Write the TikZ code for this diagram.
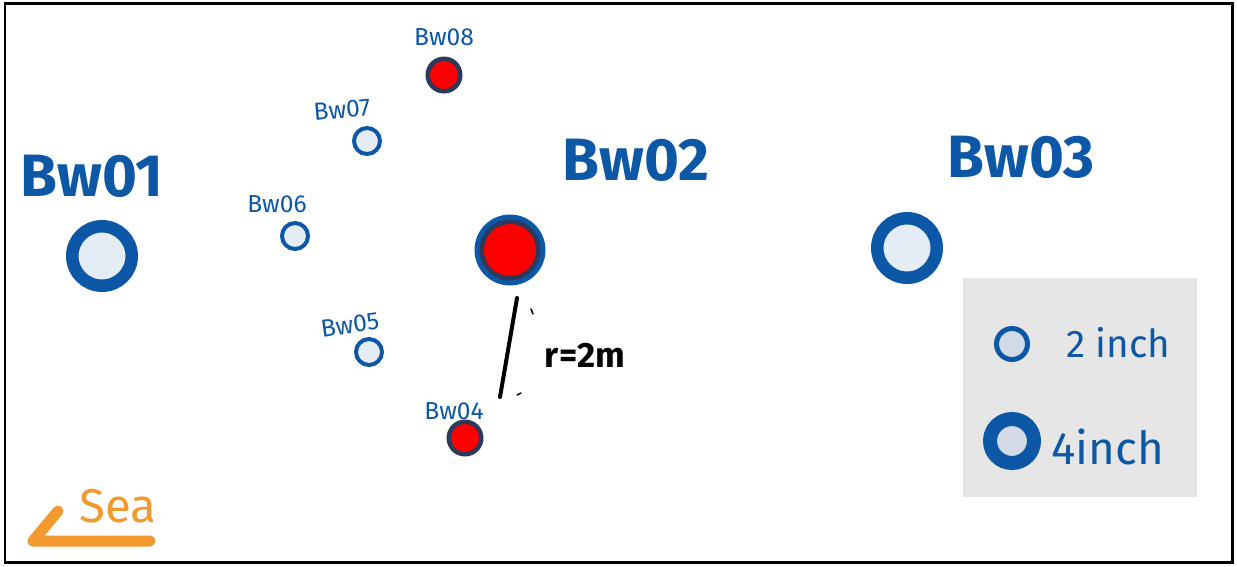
\documentclass[tikz,border=0pt]{standalone}
\usepackage{fontspec}
\setmainfont{Fira Sans}
\usepackage{tikz}
\usetikzlibrary{positioning}
\usepackage{xcolor}
\definecolor{wellblue}{HTML}{0D58A6}
\definecolor{welllight}{HTML}{E4ECF6}
\definecolor{wellnavy}{HTML}{2B3A5A}
\definecolor{wellred}{HTML}{FF0000}
\definecolor{legendgray}{HTML}{E6E6E6}
\definecolor{legendfill}{HTML}{D3DCE6}
\definecolor{seaorange}{HTML}{F39A2F}

\begin{document}
\begin{tikzpicture}[
    x=0.02cm, y=-0.02cm,
    bigwell/.style={circle, draw=wellblue, line width=0.25cm, fill=welllight,
                    minimum size=1.19cm, inner sep=0pt},
    smallwell/.style={circle, draw=wellblue, line width=0.08cm, fill=welllight,
                      minimum size=0.52cm, inner sep=0pt},
    redwell/.style={circle, draw=wellnavy, line width=0.09cm, fill=wellred,
                    minimum size=0.65cm, inner sep=0pt},
    biglabel/.style={text=wellblue, font=\fontsize{34}{38}\selectfont\bfseries},
    smalllabel/.style={text=wellblue, font=\fontsize{14}{16}\selectfont},
    legendtext/.style={text=wellblue, anchor=west, font=\fontsize{22}{26}\selectfont}
  ]
    \useasboundingbox (0,0) rectangle (1237,566);
    \fill[white] (0,0) rectangle (1237,566);
    \draw[line width=0.06cm] (5,3) rectangle (1232,562);

    % large wells
    \node[bigwell] (bw1) at (102,256) {};
    \node[circle, draw=wellblue, line width=0.1cm, fill=wellnavy,
          minimum size=1.32cm, inner sep=0pt] (bw2) at (510,250) {};
    \node[circle, fill=wellred, minimum size=1.04cm, inner sep=0pt] (bw2in) at (510,250) {};
    \node[bigwell] (bw3) at (907,248) {};
    \node[biglabel] (lab1) at (92,176) {Bw01};
    \node[biglabel] (lab2) at (636,160) {Bw02};
    \node[biglabel] (lab3) at (1021,157) {Bw03};

    % small wells
    \node[redwell] (bw4) at (465,438) {};
    \node[smallwell] (bw5) at (369,352) {};
    \node[smallwell] (bw6) at (295,236) {};
    \node[smallwell] (bw7) at (367,141) {};
    \node[redwell] (bw8) at (444,75) {};
    \node[smalllabel] (lab4) at (454,411) {Bw04};
    \node[smalllabel, rotate=8] (lab5) at (350,325) {Bw05};
    \node[smalllabel] (lab6) at (277,204) {Bw06};
    \node[smalllabel, rotate=5] (lab7) at (342,110) {Bw07};
    \node[smalllabel] (lab8) at (444,37) {Bw08};

    % radius
    \coordinate (rtop) at (517,298);
    \coordinate (rbot) at (500,397);
    \draw[line width=0.08cm, line cap=round] (rtop) -- (rbot);
    \draw[line width=0.03cm, line cap=round] (531,309) -- (533,314);
    \draw[line width=0.03cm, line cap=round] (517,395) -- (521,393);
    \node[font=\fontsize{20}{24}\selectfont\bfseries] (rlab) at (585,355) {r=2m};

    % legend
    \node[fill=legendgray, minimum width=4.68cm, minimum height=4.38cm,
          inner sep=0pt] (legend) at (1080,387.5) {};
    \node[circle, draw=wellblue, line width=0.1cm, fill=legendfill,
          minimum size=0.62cm, inner sep=0pt] (leg2) at (1012,344) {};
    \node[circle, draw=wellblue, line width=0.28cm, fill=legendfill,
          minimum size=0.88cm, inner sep=0pt] (leg4) at (1012,441) {};
    \node[legendtext] (leg2t) at (1060,343) {2 inch};
    \node[legendtext, font=\fontsize{26}{30}\selectfont] (leg4t) at (1045,447) {4inch};

    % sea direction
    \coordinate (seaa) at (58,511);
    \coordinate (seab) at (33,541);
    \coordinate (seac) at (150,541);
    \draw[seaorange, line width=0.22cm, line cap=round, line join=round]
      (seaa) -- (seab) -- (seac);
    \node[text=seaorange, font=\fontsize{27}{30}\selectfont] (sea) at (118,506) {Sea};
  \end{tikzpicture}
\end{document}
